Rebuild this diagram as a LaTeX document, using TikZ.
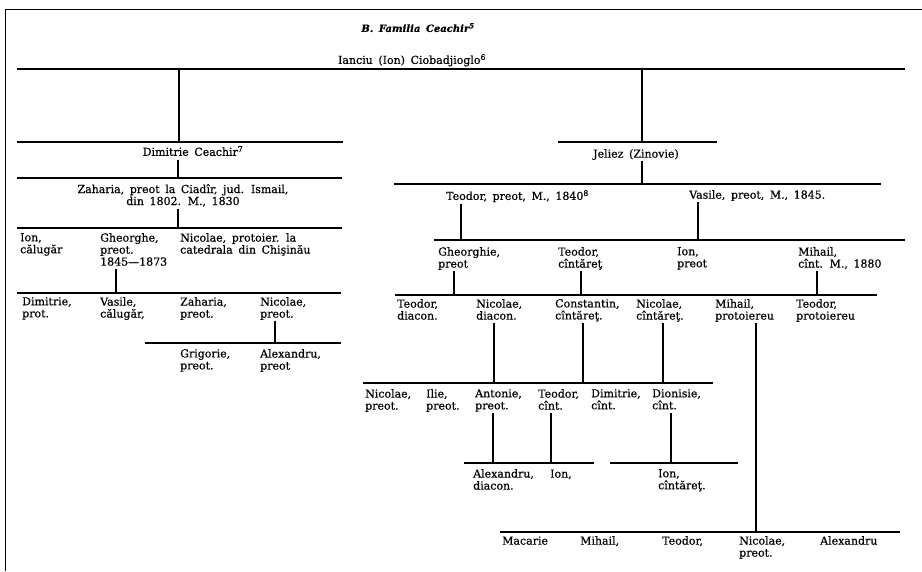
\documentclass[tikz,border=0pt]{standalone}
\usepackage{fontspec}
\setmainfont{DejaVu Serif}[WordSpace=1.6, FakeBold=0.6]
\usepackage{tikz}

\begin{document}
\begin{tikzpicture}[x=1pt, y=-1pt,
  every node/.style={inner sep=0pt, anchor=north west, align=left,
    font=\fontsize{11}{12}\selectfont, execute at begin node=\strut},
  bar/.style={draw, line width=1.4pt},
  stem/.style={draw, line width=1.1pt},
  frame/.style={draw, line width=0.7pt}
]
\useasboundingbox (0,0) rectangle (922,571);
\draw[frame] (5,571) -- (5,9) -- (922,9);

% heading
\node[anchor=north, align=center, font=\fontsize{10}{12}\selectfont\bfseries\itshape] (title) at (418,23) {B. Familia Ceachir\textsuperscript{5}};
\node[anchor=north, align=center] (ianciu) at (412,54) {Ianciu (Ion) Ciobadjioglo\textsuperscript{6}};
\draw[bar] (17,69) -- (905,69);
\coordinate (k0l) at (179,69);
\coordinate (k0r) at (642,69);
\coordinate (kdim) at (179,142);
\coordinate (kjel) at (642,142);
\draw[stem] (k0l) -- (kdim);
\draw[stem] (k0r) -- (kjel);

% left branch
\draw[bar] (17,142) -- (343,142);
\node[anchor=north, align=center] (dimitrie) at (193,146) {Dimitrie Ceachir\textsuperscript{7}};
\coordinate (kzah) at (178,178);
\draw[stem] (dimitrie.south -| kzah) -- (kzah);
\draw[bar] (17,178) -- (342,178);
\node[anchor=north, align=center] (zaharia) at (183,184) {Zaharia, preot la Ciadîr, jud. Ismail,\\din 1802. M., 1830};
\coordinate (kzch) at (178,228);
\draw[stem] (zaharia.south -| kzch) -- (kzch);
\draw[bar] (17,228) -- (342,228);

\node (ion) at (20,233) {Ion,\\călugăr};
\node (gheorghe) at (100,233) {Gheorghe,\\preot.\\1845—1873};
\node (nicolae) at (180,233) {Nicolae, protoier. la\\catedrala din Chişinău};
\coordinate (kgh) at (116,293);
\draw[stem] (gheorghe.south -| kgh) -- (kgh);
\draw[bar] (17,293) -- (341,293);

\node (dimitrieP) at (22,297) {Dimitrie,\\prot.};
\node (vasileC) at (100,297) {Vasile,\\călugăr,};
\node (zahariaP) at (180,297) {Zaharia,\\preot.};
\node (nicolaeP) at (260,297) {Nicolae,\\preot.};
\coordinate (kni) at (275,343);
\draw[stem] (nicolaeP.south -| kni) -- (kni);
\draw[bar] (145,343) -- (341,343);

\node (grigorie) at (180,349) {Grigorie,\\preot.};
\node (alexandruP) at (260,349) {Alexandru,\\preot};

% right branch
\draw[bar] (558,142) -- (717,142);
\node[anchor=north, align=center] (jeliez) at (636,149) {Jeliez (Zinovie)};
\coordinate (kjl) at (642,184);
\draw[stem] (jeliez.south -| kjl) -- (kjl);
\draw[bar] (394,184) -- (881,184);

\node (teodor) at (446,190) {Teodor, preot, M., 1840\textsuperscript{8}};
\node (vasile) at (689,190) {Vasile, preot, M., 1845.};
\coordinate (kte) at (461,240);
\coordinate (kva) at (698,240);
\draw[stem] (teodor.south -| kte) -- (kte);
\draw[stem] (vasile.south -| kva) -- (kva);
\draw[bar] (434,240) -- (905,240);

\node (gheorghie) at (438,247) {Gheorghie,\\preot};
\node (teodorC) at (558,247) {Teodor,\\cîntăreţ};
\node (ionP) at (677,247) {Ion,\\preot};
\node (mihail) at (798,247) {Mihail,\\cînt. M., 1880};
\coordinate (kgi) at (454,295);
\coordinate (ktc) at (581,295);
\coordinate (kmi) at (817,295);
\draw[stem] (gheorghie.south -| kgi) -- (kgi);
\draw[stem] (teodorC.south -| ktc) -- (ktc);
\draw[stem] (mihail.south -| kmi) -- (kmi);
\draw[bar] (395,295) -- (877,295);

\node (teodorD) at (397,299) {Teodor,\\diacon.};
\node (nicolaeD) at (476,299) {Nicolae,\\diacon.};
\node (constantin) at (555,299) {Constantin,\\cîntăreţ.};
\node (nicolaeC) at (636,299) {Nicolae,\\cîntăreţ.};
\node (mihailP) at (715,299) {Mihail,\\protoiereu};
\node (teodorP) at (796,299) {Teodor,\\protoiereu};
\coordinate (knd) at (494,383);
\coordinate (kco) at (583,383);
\coordinate (knc) at (663,383);
\coordinate (kmp) at (756,532);
\draw[stem] (nicolaeD.south -| knd) -- (knd);
\draw[stem] (constantin.south -| kco) -- (kco);
\draw[stem] (nicolaeC.south -| knc) -- (knc);
\draw[stem] (mihailP.south -| kmp) -- (kmp);
\draw[bar] (363,383) -- (713,383);

\node (nicolaeR) at (365,389) {Nicolae,\\preot.};
\node (ilie) at (426,389) {Ilie,\\preot.};
\node (antonie) at (475,389) {Antonie,\\preot.};
\node (teodorK) at (538,389) {Teodor,\\cînt.};
\node (dimitrieK) at (591,389) {Dimitrie,\\cînt.};
\node (dionisie) at (652,389) {Dionisie,\\cînt.};
\coordinate (kan) at (493,463);
\coordinate (ktk) at (551,463);
\coordinate (kdi) at (671,463);
\draw[stem] (antonie.south -| kan) -- (kan);
\draw[stem] (teodorK.south -| ktk) -- (ktk);
\draw[stem] (dionisie.south -| kdi) -- (kdi);
\draw[bar] (464,463) -- (594,463);
\draw[bar] (610,463) -- (738,463);

\node (alexandruD) at (473,469) {Alexandru,\\diacon.};
\node (ionK) at (550,469) {Ion,};
\node (ionC) at (658,469) {Ion,\\cîntăreţ.};

\draw[bar] (500,532) -- (900,532);
\node (macarie) at (502,536) {Macarie};
\node (mihailL) at (580,536) {Mihail,};
\node (teodorL) at (662,536) {Teodor,};
\node (nicolaeL) at (739,536) {Nicolae,\\preot.};
\node (alexandruL) at (820,536) {Alexandru};
\end{tikzpicture}
\end{document}
